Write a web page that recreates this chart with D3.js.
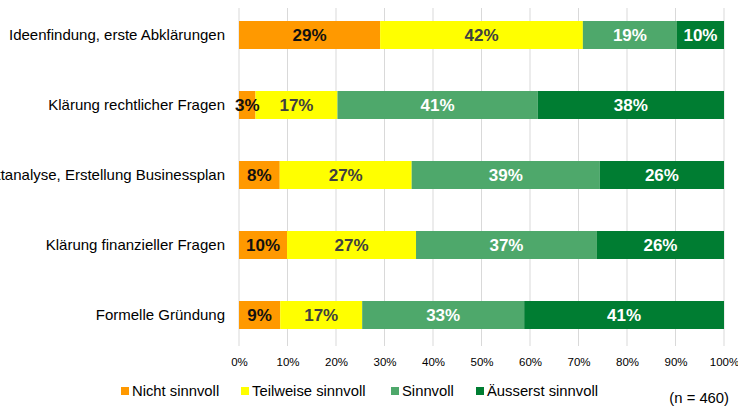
<!DOCTYPE html>
<html lang="de">
<head>
<meta charset="UTF-8">
<title>Sinnvolle Unterstützung</title>
<script src="https://cdn.jsdelivr.net/npm/d3@7"></script>
<style>
  body { margin: 0; background: #fff; }
  svg text { font-family: "Liberation Sans", Arial, sans-serif; }
</style>
</head>
<body>
<svg width="738" height="408"></svg>
<script>
// data
const categories = [
  "Ideenfindung, erste Abklärungen",
  "Klärung rechtlicher Fragen",
  "Marktanalyse, Erstellung Businessplan",
  "Klärung finanzieller Fragen",
  "Formelle Gründung"
];
const seriesNames = ["Nicht sinnvoll", "Teilweise sinnvoll", "Sinnvoll", "Äusserst sinnvoll"];
const nichtSinnvoll     = [29.1, 3.4, 8.4, 9.9, 8.5];
const teilweiseSinnvoll = [41.8, 16.9, 27.2, 26.6, 16.9];
const sinnvoll          = [19.4, 41.3, 38.8, 37.3, 33.4];
const aeusserstSinnvoll = [9.7, 38.4, 25.6, 26.2, 41.2];
const tickValues = [0, 10, 20, 30, 40, 50, 60, 70, 80, 90, 100];
const footnote = "(n = 460)";

const colors = ["#FF9900", "#FFFF00", "#4EA86B", "#007D32"];
const labelColors = ["#111111", "#404040", "#ffffff", "#ffffff"];

const svg = d3.select("svg");

const x = d3.scaleLinear().domain([0, 100]).range([239, 724]);
const y = d3.scaleBand().domain(categories).range([0, 350]).paddingInner(0.6).paddingOuter(0.3);

const rows = categories.map((c, i) => ({
  cat: c,
  vals: [nichtSinnvoll[i], teilweiseSinnvoll[i], sinnvoll[i], aeusserstSinnvoll[i]]
}));
const stack = d3.stack().keys([0, 1, 2, 3]).value((d, k) => d.vals[k]);
const stacked = stack(rows);

// grid lines
svg.append("g").selectAll("line")
  .data(tickValues)
  .enter().append("line")
  .attr("x1", d => x(d)).attr("x2", d => x(d))
  .attr("y1", 8).attr("y2", 346)
  .attr("stroke", "#d9d9d9").attr("stroke-width", 1);

// bars
const layers = svg.append("g").selectAll("g")
  .data(stacked)
  .enter().append("g")
  .attr("fill", (d, i) => colors[i]);

layers.selectAll("rect")
  .data(d => d)
  .enter().append("rect")
  .attr("x", d => x(d[0]))
  .attr("width", d => x(d[1]) - x(d[0]))
  .attr("y", d => y(d.data.cat))
  .attr("height", y.bandwidth());

// value labels
stacked.forEach((layer, i) => {
  svg.append("g").selectAll("text")
    .data(layer)
    .enter().append("text")
    .attr("x", d => (x(d[0]) + x(d[1])) / 2)
    .attr("y", d => y(d.data.cat) + y.bandwidth() / 2)
    .attr("dy", "0.36em")
    .attr("text-anchor", "middle")
    .attr("font-size", "17px")
    .attr("font-weight", "bold")
    .attr("fill", labelColors[i])
    .text(d => Math.round(d[1] - d[0]) + "%");
});

// category labels
svg.append("g").selectAll("text")
  .data(categories)
  .enter().append("text")
  .attr("x", 225)
  .attr("y", d => y(d) + y.bandwidth() / 2)
  .attr("dy", "0.35em")
  .attr("text-anchor", "end")
  .attr("font-size", "15px")
  .attr("fill", "#000")
  .text(d => d);

// x axis
const xAxis = svg.append("g")
  .attr("transform", "translate(0,346)")
  .call(d3.axisBottom(x).tickValues(tickValues).tickFormat(d => d + "%").tickSize(0).tickPadding(12));
xAxis.select(".domain").remove();
xAxis.selectAll("text")
  .attr("font-size", "11.5px")
  .attr("fill", "#000")
  .style("font-family", "'Liberation Sans', Arial, sans-serif");

// legend
const legendX = [121, 241, 391, 476];
const legend = svg.append("g").selectAll("g")
  .data(seriesNames)
  .enter().append("g")
  .attr("transform", (d, i) => `translate(${legendX[i]},387)`);
legend.append("rect")
  .attr("width", 8).attr("height", 8)
  .attr("fill", (d, i) => colors[i]);
legend.append("text")
  .attr("x", 11).attr("y", 4)
  .attr("dy", "0.35em")
  .attr("font-size", "14.8px")
  .attr("fill", "#000")
  .text(d => d);

svg.append("text")
  .attr("x", 729).attr("y", 398)
  .attr("dy", "0.35em")
  .attr("text-anchor", "end")
  .attr("font-size", "14.8px")
  .attr("fill", "#000")
  .text(footnote);
</script>
</body>
</html>
